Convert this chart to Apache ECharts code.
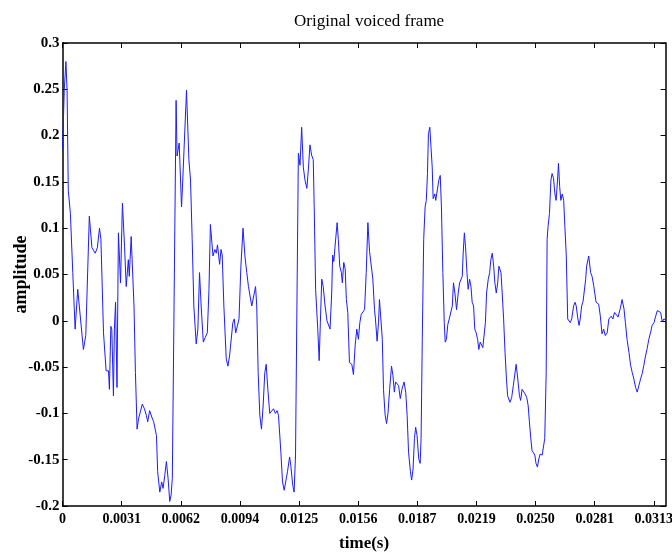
<!DOCTYPE html>
<html>
<head>
<meta charset="utf-8">
<title>Original voiced frame</title>
<script src="https://cdn.jsdelivr.net/npm/echarts@6/dist/echarts.min.js"></script>
<style>
  html, body { margin: 0; padding: 0; background: #fff; }
  #chart { width: 672px; height: 556px; }
</style>
</head>
<body>
<div id="chart"></div>
<script>
// Voiced speech frame, sampled at 8 kHz (256 samples).
const sampleRate = 8000;
const frameLength = 256;

// Sample positions (in samples) and the amplitude at each.
const sampleIndex = [
  0, 0.7, 1.4, 1.9, 2.4, 3.3, 4.3, 5.3, 6.4, 8.8, 9.8, 11.3, 12.4, 13.8, 14.7, 15.6, 16.2, 17.3, 18.4, 19.4,
  19.8, 20.4, 20.8, 21.5, 21.9, 22.4, 23.0, 23.6, 24.5, 25.3, 26.2, 26.9, 27.8, 28.2, 29.0, 29.6, 30.2, 30.8, 31.5, 32.1,
  32.9, 33.7, 34.6, 35.4, 36.0, 36.8, 37.4, 38.0, 38.5, 39.1, 39.7, 40.2, 41.1, 41.9, 42.5, 43.2, 43.9, 44.6, 45.3, 45.9,
  46.4, 48.0, 48.4, 49.3, 50.3, 50.8, 51.5, 52.4, 53.4, 54.1, 54.8, 55.5, 56.5, 57.2, 57.9, 58.6, 59.5, 60.3, 61.2, 61.9,
  62.5, 63.6, 64.4, 65.0, 65.5, 66.4, 67.0, 67.5, 68.2, 69.2, 69.9, 70.6, 71.4, 72.0, 72.6, 73.2, 73.9, 74.6, 75.4, 76.3,
  77.1, 77.9, 78.6, 79.1, 80.0, 80.7, 81.6, 82.1, 82.7, 83.4, 84.1, 84.8, 85.5, 86.1, 86.8, 87.6, 88.3, 89.2, 90.0, 90.7,
  91.3, 92.3, 93.0, 93.7, 94.4, 95.1, 96.0, 96.5, 97.3, 97.9, 98.5, 99.7, 100.4, 101.1, 101.8, 102.5, 103.3, 104.0, 104.6, 105.3,
  106.0, 106.4, 107.0, 107.9, 108.5, 109.0, 109.6, 110.2, 111.0, 111.8, 112.5, 113.1, 113.8, 114.2, 114.7, 115.2, 116.1, 116.6, 117.2, 117.9,
  118.3, 118.9, 119.5, 120.0, 120.6, 121.3, 122.3, 123.0, 123.7, 124.4, 125.1, 125.7, 126.3, 127.0, 127.7, 128.4, 129.1, 129.8, 130.2, 130.6,
  131.2, 131.9, 132.3, 133.0, 133.6, 134.0, 134.6, 135.2, 135.7, 136.4, 137.0, 137.6, 138.3, 139.1, 139.7, 140.3, 140.8, 141.4, 142.1, 142.8,
  143.5, 144.4, 145.1, 145.7, 146.3, 147.1, 147.6, 148.2, 148.8, 149.3, 149.9, 150.6, 151.2, 151.6, 152.1, 152.7, 153.3, 153.8, 154.3, 154.7,
  155.3, 155.8, 156.3, 156.7, 157.4, 157.8, 158.4, 159.1, 159.7, 160.2, 160.8, 161.4, 161.8, 162.3, 162.9, 163.5, 164.0, 164.8, 165.3, 165.9,
  166.6, 167.3, 167.9, 168.4, 169.0, 169.4, 169.9, 170.4, 171.0, 171.5, 172.1, 172.7, 173.2, 173.8, 174.3, 174.9, 175.5, 176.0, 176.6, 177.2,
  177.7, 178.2, 178.8, 179.3, 180.0, 180.6, 181.1, 181.7, 182.3, 182.8, 183.4, 184.0, 184.5, 184.9, 185.4, 185.9, 186.5, 187.1, 187.7, 188.2,
  189.2, 189.9, 190.6, 191.8, 192.5, 193.2, 193.7, 194.3, 194.9, 195.6, 196.3, 196.9, 197.4, 198.0, 198.5, 199.1, 199.7, 200.2, 200.8, 201.4,
  201.9, 202.8, 203.4, 203.9, 204.5, 204.9, 205.3, 205.9, 206.5, 207.0, 207.6, 208.2, 208.7, 209.3, 209.7, 210.2, 210.7, 211.3, 211.9, 212.4,
  213.0, 213.6, 214.1, 214.7, 215.3, 216.1, 216.7, 217.2, 217.8, 218.4, 218.9, 219.5, 220.1, 220.6, 221.2, 221.6, 222.5, 223.3, 223.9, 224.6,
  225.6, 226.7, 227.4, 228.1, 228.8, 229.5, 230.3, 231.0, 232.0, 232.7, 233.4, 234.2, 234.9, 235.9, 236.6, 237.4, 238.0, 238.7, 239.5, 240.2,
  240.9, 241.6, 242.3, 243.0, 243.7, 244.4, 245.1, 245.8, 246.5, 247.2, 247.9, 248.6, 249.3, 250.1, 250.8, 251.5, 252.2, 252.9, 253.6, 254.3,
  255.0
];

const amplitude = [
  0.186, 0.249, 0.280, 0.249, 0.141, 0.116, 0.052, -0.009, 0.034, -0.031, -0.016, 0.113, 0.079, 0.073, 0.079, 0.100, 0.088, -0.013, -0.054, -0.054,
  -0.074, -0.006, -0.009, -0.081, -0.009, 0.020, -0.072, 0.095, 0.041, 0.127, 0.080, 0.037, 0.066, 0.048, 0.091, 0.090, 0.016, -0.056, -0.117, -0.106,
  -0.106, -0.090, -0.095, -0.102, -0.109, -0.097, -0.095, -0.106, -0.109, -0.108, -0.124, -0.163, -0.185, -0.174, -0.181, -0.167, -0.152, -0.170, -0.195, -0.188,
  -0.170, 0.238, 0.178, 0.192, 0.123, 0.151, 0.152, 0.249, 0.174, 0.152, 0.088, 0.016, -0.025, -0.009, 0.052, 0.016, -0.023, -0.018, -0.013, 0.034,
  0.104, 0.070, 0.077, 0.073, 0.082, 0.061, 0.077, 0.071, 0.016, -0.041, -0.049, -0.038, -0.040, -0.002, 0.002, -0.013, -0.011, 0.002, 0.059, 0.100,
  0.070, 0.052, 0.037, 0.036, 0.016, 0.018, 0.037, 0.016, -0.056, -0.102, -0.117, -0.092, -0.056, -0.047, -0.074, -0.100, -0.102, -0.095, -0.100, -0.097,
  -0.102, -0.142, -0.174, -0.183, -0.183, -0.163, -0.147, -0.156, -0.177, -0.185, -0.145, 0.181, 0.168, 0.209, 0.166, 0.152, 0.143, 0.166, 0.190, 0.179,
  0.174, 0.123, 0.034, -0.009, -0.043, -0.002, 0.045, 0.037, 0.016, 0.000, -0.002, -0.009, 0.030, 0.071, 0.064, 0.080, 0.106, 0.088, 0.059, 0.052,
  0.041, 0.063, 0.056, 0.023, 0.009, -0.045, -0.047, -0.058, -0.027, -0.009, -0.020, -0.002, 0.007, 0.007, 0.012, 0.052, 0.106, 0.075, 0.073, 0.077,
  0.045, 0.012, 0.002, -0.022, -0.002, 0.023, 0.025, -0.020, -0.074, -0.102, -0.111, -0.100, -0.074, -0.049, -0.059, -0.077, -0.066, -0.065, -0.070, -0.084,
  -0.074, -0.066, -0.077, -0.102, -0.142, -0.163, -0.172, -0.160, -0.127, -0.115, -0.124, -0.149, -0.154, -0.127, -0.020, 0.088, 0.123, 0.130, 0.159, 0.202,
  0.209, 0.187, 0.166, 0.132, 0.137, 0.130, 0.129, 0.152, 0.157, 0.123, 0.052, -0.002, -0.023, -0.020, -0.004, 0.002, 0.002, 0.016, 0.041, 0.030,
  0.012, 0.030, 0.041, 0.043, 0.048, 0.073, 0.095, 0.080, 0.052, 0.034, 0.045, 0.037, 0.020, 0.016, -0.009, -0.013, -0.020, -0.031, -0.023, -0.025,
  -0.029, -0.027, -0.002, 0.030, 0.045, 0.052, 0.066, 0.073, 0.059, 0.041, 0.030, 0.041, 0.059, 0.061, 0.052, 0.030, 0.002, -0.034, -0.063, -0.081,
  -0.088, -0.083, -0.070, -0.047, -0.063, -0.081, -0.086, -0.074, -0.075, -0.079, -0.083, -0.092, -0.109, -0.127, -0.140, -0.142, -0.145, -0.154, -0.158, -0.149,
  -0.144, -0.145, -0.145, -0.127, -0.056, 0.088, 0.102, 0.116, 0.152, 0.159, 0.154, 0.137, 0.130, 0.152, 0.170, 0.145, 0.130, 0.137, 0.130, 0.102,
  0.070, 0.002, 0.000, -0.002, 0.002, 0.016, 0.020, 0.016, 0.004, -0.005, 0.002, 0.016, 0.021, 0.023, 0.045, 0.059, 0.070, 0.052, 0.048, 0.038,
  0.020, 0.018, 0.005, -0.014, -0.009, -0.016, -0.013, 0.002, 0.005, 0.002, 0.009, 0.011, 0.004, 0.014, 0.023, 0.013, -0.002, -0.020, -0.034, -0.048,
  -0.056, -0.063, -0.072, -0.077, -0.070, -0.063, -0.057, -0.048, -0.038, -0.030, -0.020, -0.013, -0.005, -0.002, 0.005, 0.011, 0.012, 0.009, -0.001, 0.002,
  0.001
];

// Time-axis ticks every 25 samples, with their printed labels.
const xTickSamples = [0, 25, 50, 75, 100, 125, 150, 175, 200, 225, 250];
const xTickLabels = ['0', '0.0031', '0.0062', '0.0094', '0.0125', '0.0156', '0.0187', '0.0219', '0.0250', '0.0281', '0.0313'];

// Amplitude-axis ticks.
const yTickValues = [-0.2, -0.15, -0.1, -0.05, 0, 0.05, 0.1, 0.15, 0.2, 0.25, 0.3];
const yTickLabels = ['-0.2', '-0.15', '-0.1', '-0.05', '0', '0.05', '0.1', '0.15', '0.2', '0.25', '0.3'];

const W = 672, H = 556;
const grid = { left: 62.6, right: 6.4, top: 43, bottom: 50 };

const xTickTimes = xTickSamples.map(s => s / sampleRate);
const tMax = (frameLength - 1) / sampleRate;
const points = sampleIndex.map((s, i) => [s / sampleRate, amplitude[i]]);

function xLabelFor(v) {
  const i = xTickTimes.findIndex(t => Math.abs(t - v) < 1e-7);
  return i >= 0 ? xTickLabels[i] : '';
}
function yLabelFor(v) {
  const i = yTickValues.findIndex(t => Math.abs(t - v) < 1e-7);
  return i >= 0 ? yTickLabels[i] : '';
}

const serif = '"Liberation Serif", "Times New Roman", serif';
const axisLine = { show: true, onZero: false, lineStyle: { color: '#000', width: 1.5 } };
const tickStyle = { show: true, inside: true, length: 5, lineStyle: { color: '#000', width: 1 } };

const chart = echarts.init(document.getElementById('chart'), null, { renderer: 'canvas', width: W, height: H });

chart.setOption({
  backgroundColor: '#fff',
  animation: false,
  title: {
    text: 'Original voiced frame',
    left: grid.left + (W - grid.left - grid.right) / 2,
    textAlign: 'center',
    top: 8,
    textStyle: { fontFamily: serif, fontWeight: 'normal', fontSize: 17, color: '#000' }
  },
  grid: {
    left: grid.left, right: grid.right, top: grid.top, bottom: grid.bottom,
    containLabel: false, outerBoundsMode: 'none'
  },
  xAxis: [
    {
      type: 'value', position: 'bottom', min: 0, max: tMax,
      name: 'time(s)', nameLocation: 'middle', nameGap: 29, nameMoveOverlap: false,
      nameTextStyle: { fontFamily: serif, fontWeight: 'bold', fontSize: 17, color: '#000' },
      axisLine,
      axisTick: Object.assign({}, tickStyle, { customValues: xTickTimes }),
      axisLabel: {
        customValues: xTickTimes, formatter: xLabelFor, margin: 6, hideOverlap: false,
        fontFamily: serif, fontWeight: 'bold', fontSize: 14, color: '#000'
      },
      splitLine: { show: false }
    },
    {
      type: 'value', position: 'top', min: 0, max: tMax,
      axisLine,
      axisTick: Object.assign({}, tickStyle, { customValues: xTickTimes }),
      axisLabel: { show: false },
      splitLine: { show: false }
    }
  ],
  yAxis: [
    {
      type: 'value', position: 'left', min: -0.2, max: 0.3, interval: 0.05,
      name: 'amplitude', nameLocation: 'middle', nameGap: 32, nameRotate: 90, nameMoveOverlap: false,
      nameTextStyle: { fontFamily: serif, fontWeight: 'bold', fontSize: 18, color: '#000' },
      axisLine,
      axisTick: tickStyle,
      axisLabel: { formatter: yLabelFor, margin: 3, fontFamily: serif, fontWeight: 'bold', fontSize: 15, color: '#000' },
      splitLine: { show: false }
    },
    {
      type: 'value', position: 'right', min: -0.2, max: 0.3, interval: 0.05,
      axisLine,
      axisTick: tickStyle,
      axisLabel: { show: false },
      splitLine: { show: false }
    }
  ],
  series: [
    {
      type: 'line',
      data: points,
      showSymbol: false,
      smooth: false,
      lineStyle: { color: '#1c1cff', width: 1 },
      clip: true
    }
  ]
});
</script>
</body>
</html>
